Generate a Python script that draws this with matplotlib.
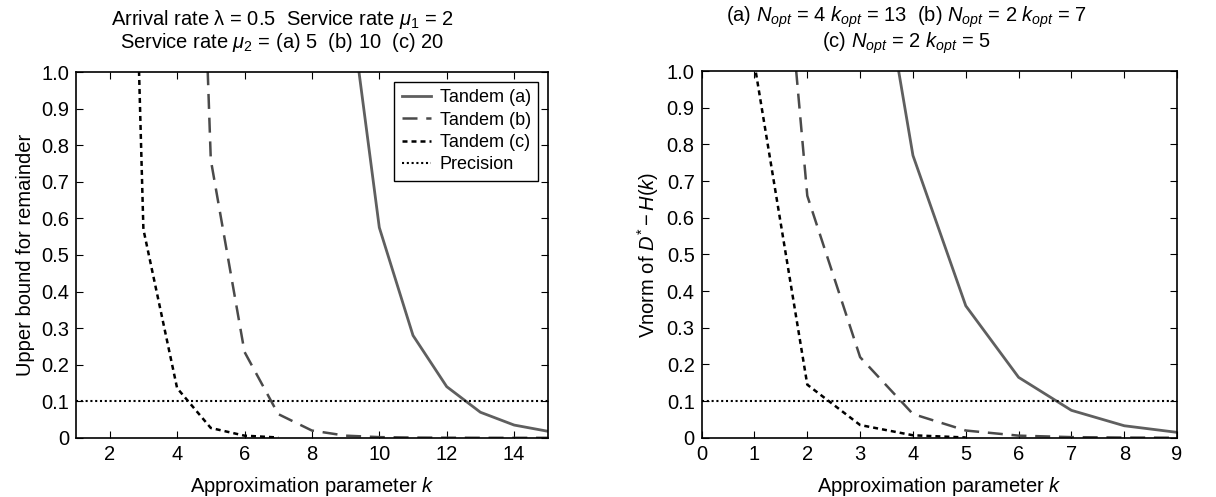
import numpy as np
import matplotlib
matplotlib.use("Agg")
import matplotlib.pyplot as plt

plt.rcParams.update({
    'font.family': ['Liberation Sans', 'DejaVu Sans'],
    'font.size': 14.5,
    'mathtext.fontset': 'custom',
    'mathtext.rm': 'Liberation Sans',
    'mathtext.it': 'Liberation Sans:italic',
    'mathtext.bf': 'Liberation Sans:bold',
    'xtick.direction': 'in',
    'ytick.direction': 'in',
    'xtick.top': True,
    'ytick.right': True,
    'xtick.major.size': 5,
    'ytick.major.size': 5,
    'xtick.major.pad': 5,
    'ytick.major.pad': 5,
    'axes.linewidth': 1.2,
})

# left panel: upper bound for remainder vs k
k_a_left = [8, 9, 10, 11, 12, 13, 14, 15]
ub_a = [3.0, 1.28, 0.575, 0.28, 0.14, 0.07, 0.035, 0.018]
k_b_left = [4, 5, 6, 7, 8, 9, 10, 11, 12, 13, 14, 15]
ub_b = [3.4, 0.76, 0.235, 0.065, 0.02, 0.006, 0.002, 0.0008, 0.0004, 0.0002, 0.0001, 0.0001]
k_c_left = [2, 3, 4, 5, 6, 7]
ub_c = [3.9, 0.57, 0.136, 0.027, 0.006, 0.001]

# right panel: Vnorm of D* - H(k)
k_a_right = [3, 4, 5, 6, 7, 8, 9]
vn_a = [1.62, 0.77, 0.36, 0.165, 0.075, 0.033, 0.015]
k_b_right = [1, 2, 3, 4, 5, 6, 7, 8, 9]
vn_b = [2.28, 0.66, 0.22, 0.065, 0.02, 0.006, 0.002, 0.0008, 0.0003]
k_c_right = [1, 2, 3, 4, 5]
vn_c = [1.02, 0.145, 0.035, 0.007, 0.001]

precision = 0.1

style_a = dict(color='#5f5f5f', lw=2.0, ls='-')
style_b = dict(color='#4a4a4a', lw=1.8, ls=(0, (6, 3.5)))
style_c = dict(color='black', lw=1.8, ls=(0, (2, 1.6)))
style_p = dict(color='black', lw=1.5, ls=(0, (1, 1.3)))

fig = plt.figure(figsize=(12.16, 4.97), dpi=100)
ax1 = fig.add_axes([0.0625, 0.119, 0.388, 0.736])
ax2 = fig.add_axes([0.577, 0.119, 0.391, 0.738])

yticks = np.arange(0, 1.01, 0.1)
ylabels = ['0'] + [f'{v:.1f}' for v in yticks[1:]]

ax1.plot(k_a_left, ub_a, label='Tandem (a)', **style_a)
ax1.plot(k_b_left, ub_b, label='Tandem (b)', **style_b)
ax1.plot(k_c_left, ub_c, label='Tandem (c)', **style_c)
ax1.axhline(precision, label='Precision', **style_p)
ax1.set_xlim(1, 15)
ax1.set_ylim(0, 1)
ax1.set_xticks(range(2, 15, 2))
ax1.set_yticks(yticks)
ax1.set_yticklabels(ylabels)
ax1.set_xlabel('Approximation parameter $k$', labelpad=8)
ax1.set_ylabel('Upper bound for remainder', labelpad=4)
ax1.set_title('Arrival rate \u03bb = 0.5  Service rate $\\mu_1$ = 2\n'
              'Service rate $\\mu_2$ = (a) 5  (b) 10  (c) 20', x=0.437, pad=17,
              fontsize=14.5, linespacing=1.0)
leg = ax1.legend(loc='upper right', fancybox=False, framealpha=1, edgecolor='black',
                 handlelength=1.6, borderaxespad=0.55, labelspacing=0.3, fontsize=13,
                 borderpad=0.4, handletextpad=0.5)
leg.get_frame().set_linewidth(1.0)

ax2.plot(k_a_right, vn_a, **style_a)
ax2.plot(k_b_right, vn_b, **style_b)
ax2.plot(k_c_right, vn_c, **style_c)
ax2.axhline(precision, **style_p)
ax2.set_xlim(0, 9)
ax2.set_ylim(0, 1)
ax2.set_xticks(range(0, 10))
ax2.set_yticks(yticks)
ax2.set_yticklabels(ylabels)
ax2.set_xlabel('Approximation parameter $k$', labelpad=8)
ax2.set_ylabel('Vnorm of $D^{*} - H(k)$', labelpad=4)
ax2.set_title('(a) $N_{opt}$ = 4 $k_{opt}$ = 13  (b) $N_{opt}$ = 2 $k_{opt}$ = 7\n'
              '(c) $N_{opt}$ = 2 $k_{opt}$ = 5', x=0.43, pad=17, fontsize=14.5,
              linespacing=1.0)

fig.savefig('out.png', dpi=100)
